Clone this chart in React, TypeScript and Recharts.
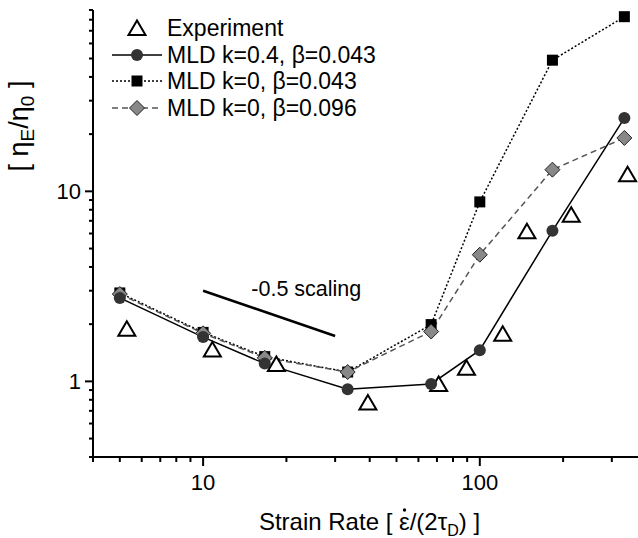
import {
  ComposedChart,
  XAxis,
  YAxis,
  Line,
  Scatter,
  ReferenceLine,
  ReferenceDot,
  Legend,
  Label,
} from "recharts";

const FONT = '"Liberation Sans", Arial, Helvetica, sans-serif';

// model strain rates (shared by all three MLD curves)
const RATES = [5, 10, 16.7, 33.3, 66.7, 100, 183, 333];
const MLD_K04 = [2.75, 1.71, 1.24, 0.91, 0.97, 1.46, 6.2, 24.3];
const MLD_K0_B043 = [2.92, 1.81, 1.35, 1.12, 1.99, 8.8, 49, 83];
const MLD_K0_B096 = [2.88, 1.79, 1.33, 1.12, 1.83, 4.64, 13.0, 19.1];

// experiment
const EXP_RATES = [5.3, 10.8, 18.4, 39.4, 71, 89.5, 121, 148, 214, 342];
const EXP_VALUES = [1.89, 1.47, 1.235, 0.775, 0.97, 1.18, 1.78, 6.16, 7.54, 12.3];

// -0.5 slope guide
const SLOPE_RATES = [10, 30];
const SLOPE_VALUES = [3, 1.732];

const X_TICKS = [4, 5, 6, 7, 8, 9, 10, 20, 30, 40, 50, 60, 70, 80, 90, 100, 200, 300];
const X_MAJOR = [10, 100];
const Y_TICKS = [
  0.4, 0.5, 0.6, 0.7, 0.8, 0.9, 1, 2, 3, 4, 5, 6, 7, 8, 9, 10, 20, 30, 40, 50, 60, 70, 80, 90,
];
const Y_MAJOR = [1, 10];

const LEGEND_NAMES = [
  "Experiment",
  "MLD k=0.4, \u03b2=0.043",
  "MLD k=0, \u03b2=0.043",
  "MLD k=0, \u03b2=0.096",
];

const toPoints = (xs: number[], ys: number[]) => xs.map((x, i) => ({ x, y: ys[i] }));

const k04Data = toPoints(RATES, MLD_K04);
const b043Data = toPoints(RATES, MLD_K0_B043);
const b096Data = toPoints(RATES, MLD_K0_B096);
const expData = toPoints(EXP_RATES, EXP_VALUES);
const slopeSegment = toPoints(SLOPE_RATES, SLOPE_VALUES);

const Circle = ({ cx, cy }: any) => <circle cx={cx} cy={cy} r={6} fill="#333" />;
const Square = ({ cx, cy }: any) => (
  <rect x={cx - 5.5} y={cy - 5.5} width={11} height={11} fill="#000" />
);
const Diamond = ({ cx, cy }: any) => (
  <polygon
    points={`${cx},${cy - 7.5} ${cx + 7.5},${cy} ${cx},${cy + 7.5} ${cx - 7.5},${cy}`}
    fill="#888"
    stroke="#222"
    strokeWidth={1}
  />
);
const Triangle = ({ cx, cy }: any) => (
  <polygon
    points={`${cx},${cy - 7.5} ${cx + 8.5},${cy + 7} ${cx - 8.5},${cy + 7}`}
    fill="#fff"
    stroke="#000"
    strokeWidth={2}
  />
);

const XTick = ({ x, y, payload }: any) => {
  const major = X_MAJOR.includes(payload.value);
  return (
    <g>
      <line x1={x} x2={x} y1={y} y2={y + (major ? 9 : 5)} stroke="#000" strokeWidth={2} />
      {major && (
        <text x={x} y={y + 25} dy="0.35em" textAnchor="middle" fontSize={22} fontFamily={FONT} fill="#000">
          {payload.value}
        </text>
      )}
    </g>
  );
};

const YTick = ({ x, y, payload }: any) => {
  const major = Y_MAJOR.includes(payload.value);
  return (
    <g>
      <line x1={x} x2={x - (major ? 8 : 4)} y1={y} y2={y} stroke="#000" strokeWidth={2} />
      {major && (
        <text x={x - 12} y={y} dy="0.35em" textAnchor="end" fontSize={22} fontFamily={FONT} fill="#000">
          {payload.value}
        </text>
      )}
    </g>
  );
};

const XTitle = ({ viewBox }: any) => {
  const cx = viewBox.x + viewBox.width / 2 + 4;
  return (
    <g>
      <text x={cx} y={530} textAnchor="middle" fontSize={24} fontFamily={FONT} fill="#000">
        Strain Rate [ {"\u03b5"}/(2{"\u03c4"}
        <tspan fontSize={16} dy={6}>D</tspan>
        <tspan dy={-6}>) ]</tspan>
      </text>
      {/* time-derivative dot over epsilon */}
      <circle cx={cx + 35} cy={510} r={1.7} fill="#000" />
    </g>
  );
};

const YTitle = () => (
  <text
    x={126}
    y={28}
    transform="rotate(-90) translate(-252 0)"
    textAnchor="middle"
    fontSize={27}
    fontFamily={FONT}
    fill="#000"
  >
    [ {"\u03b7"}
    <tspan fontSize={19} dy={6}>E</tspan>
    <tspan dy={-6}>/{"\u03b7"}</tspan>
    <tspan fontSize={19} dy={6}>0</tspan>
    <tspan dy={-6}> ]</tspan>
  </text>
);

const legendSymbols = [
  (cx: number, cy: number) => <Triangle cx={cx} cy={cy} />,
  (cx: number, cy: number) => (
    <>
      <line x1={2} x2={52} y1={cy} y2={cy} stroke="#000" strokeWidth={1.5} />
      <Circle cx={cx} cy={cy} />
    </>
  ),
  (cx: number, cy: number) => (
    <>
      <line x1={2} x2={52} y1={cy} y2={cy} stroke="#000" strokeWidth={1.5} strokeDasharray="2 2" />
      <Square cx={cx} cy={cy} />
    </>
  ),
  (cx: number, cy: number) => (
    <>
      <line x1={2} x2={52} y1={cy} y2={cy} stroke="#555" strokeWidth={1.5} strokeDasharray="6 4" />
      <Diamond cx={cx} cy={cy} />
    </>
  ),
];

const LegendBox = () => (
  <div style={{ fontFamily: FONT, fontSize: 23, color: "#000" }}>
    {LEGEND_NAMES.map((name, i) => (
      <div key={name} style={{ display: "flex", alignItems: "center", height: 26.6 }}>
        <svg width={54} height={26} style={{ flex: "none" }}>
          {legendSymbols[i](27, 13)}
        </svg>
        <span style={{ marginLeft: 3, whiteSpace: "nowrap", lineHeight: "26px" }}>{name}</span>
      </div>
    ))}
  </div>
);

export default function App() {
  return (
    <div style={{ position: "absolute", left: 0, top: 0, background: "#fff" }}>
      <ComposedChart
        width={638}
        height={538}
        margin={{ top: 10, right: 0, bottom: 0, left: 0 }}
        style={{ fontFamily: FONT }}
      >
        <XAxis
          dataKey="x"
          type="number"
          scale="log"
          domain={[4, 373]}
          allowDataOverflow
          ticks={X_TICKS}
          interval={0}
          tick={<XTick />}
          tickSize={0}
          tickMargin={0}
          tickLine={false}
          axisLine={{ stroke: "#000", strokeWidth: 2 }}
          height={81}
        >
          <Label content={<XTitle />} />
        </XAxis>
        <YAxis
          dataKey="y"
          type="number"
          scale="log"
          domain={[0.4, 90]}
          allowDataOverflow
          ticks={Y_TICKS}
          interval={0}
          tick={<YTick />}
          tickSize={0}
          tickMargin={0}
          tickLine={false}
          axisLine={{ stroke: "#000", strokeWidth: 2 }}
          width={93}
        >
          <Label content={<YTitle />} />
        </YAxis>
        <ReferenceLine segment={slopeSegment} stroke="#000" strokeWidth={2.5} />
        <ReferenceDot
          x={23.6}
          y={3.1}
          r={0}
          stroke="none"
          label={{ value: "-0.5 scaling", position: "center", fontSize: 21.5, fill: "#000", fontFamily: FONT }}
        />
        <Line
          data={b043Data}
          dataKey="y"
          stroke="#000"
          strokeWidth={1.5}
          strokeDasharray="2 2"
          dot={(p: any) => <Square key={p.index} cx={p.cx} cy={p.cy} />}
          activeDot={false}
          isAnimationActive={false}
        />
        <Line
          data={b096Data}
          dataKey="y"
          stroke="#555"
          strokeWidth={1.5}
          strokeDasharray="6 4"
          dot={(p: any) => <Diamond key={p.index} cx={p.cx} cy={p.cy} />}
          activeDot={false}
          isAnimationActive={false}
        />
        <Line
          data={k04Data}
          dataKey="y"
          stroke="#000"
          strokeWidth={1.5}
          dot={(p: any) => <Circle key={p.index} cx={p.cx} cy={p.cy} />}
          activeDot={false}
          isAnimationActive={false}
        />
        <Scatter
          data={expData}
          dataKey="y"
          shape={(p: any) => <Triangle cx={p.cx} cy={p.cy} />}
          isAnimationActive={false}
        />
        <Legend
          layout="vertical"
          align="center"
          verticalAlign="middle"
          content={<LegendBox />}
          wrapperStyle={{ left: 110, top: 15, width: 320, height: 110 }}
        />
      </ComposedChart>
    </div>
  );
}
